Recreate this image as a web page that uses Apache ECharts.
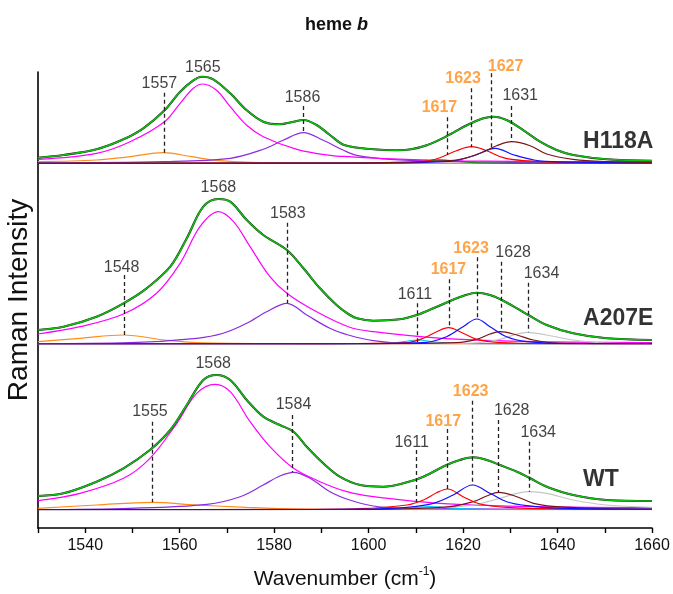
<!DOCTYPE html>
<html><head><meta charset="utf-8">
<script src="https://cdn.jsdelivr.net/npm/echarts@6/dist/echarts.min.js"></script>
<style>html,body{margin:0;padding:0;background:#fff}#c{width:673px;height:594px}</style>
</head><body><div id="c"></div>
<script>
// ---------- axis ----------
const xMin = 1530, xMax = 1660;
const tickLabels = [1540, 1560, 1580, 1600, 1620, 1640, 1660];

// ---------- H118A (intensity in arbitrary units above panel baseline) ----------
const h118a_fit  = [[1530,5.6],[1535.4,8.3],[1542.4,14],[1548.1,24],[1552.3,35],[1556.8,53],[1560.1,71.6],[1562.9,83],[1564.7,86.6],[1567.1,84],[1570.7,70],[1574.2,53],[1577.7,41.6],[1581.2,39],[1584.1,41.6],[1586.2,43.3],[1589,38.3],[1591.8,28.3],[1595,18],[1601,14],[1606,13],[1609,14],[1612.3,18],[1616.5,27],[1620.8,38],[1624.3,45],[1626.4,46.6],[1629.2,43.3],[1632.8,33],[1636.3,21.6],[1639.8,13.3],[1643.3,8.3],[1650.4,4],[1660,2.5]];
const h118a_1565 = [[1530,4],[1542.4,10],[1549.5,21.6],[1556.8,41.6],[1560.1,60],[1562.9,75],[1564.9,79.3],[1567.8,73],[1570.7,56.6],[1574.2,38],[1577.7,26.6],[1584.8,14],[1591.8,8],[1596,6.6],[1605,4.5],[1620,2.5],[1640,1.8],[1660,1.5]];
const h118a_1586 = [[1530,0.5],[1556.8,1.7],[1570.7,5],[1577.7,14],[1581.9,23],[1586.2,30.6],[1590.4,23],[1594.7,13],[1597.5,8],[1604.6,4],[1615,2],[1630,1],[1660,0.5]];
const h118a_1557 = [[1530,1.6],[1542.4,3.3],[1549.5,6.6],[1556.5,10.6],[1562.5,6.6],[1567.8,3],[1575,1],[1590,0.3],[1600,0],[1660,0]];
const h118a_1617 = [[1530,0],[1600,0],[1608,0.6],[1612,2],[1615,3.5],[1619,2],[1624,0.5],[1640,0],[1660,0]];
const h118a_1623 = [[1530,0],[1590,0.2],[1600,0.5],[1611.6,2],[1615.1,5.6],[1618.6,12.6],[1621.8,16.6],[1625,12.6],[1628.5,5.6],[1632.8,2.6],[1640,1],[1660,0.3]];
const h118a_1627 = [[1530,0],[1590,0.1],[1600,0.3],[1617.2,2],[1622.1,7.3],[1626.8,15],[1630.8,8.3],[1635,3.3],[1640,1.5],[1660,0.5]];
const h118a_1631 = [[1530,0],[1590,0.2],[1600,0.5],[1618.6,3.3],[1623.6,10],[1627.1,17.6],[1630.3,21.6],[1634.2,17.6],[1637.7,9.3],[1643.3,4],[1650,1.8],[1660,1]];

// ---------- A207E ----------
const a207e_fit  = [[1530,14],[1535.4,17.3],[1542.4,27.3],[1548.1,40.7],[1553,55.7],[1558,77.3],[1561.5,105.7],[1565,137.3],[1568.2,145],[1570.7,142.3],[1574.2,124],[1577.7,109],[1582.7,94],[1586.2,75.7],[1589.7,55.7],[1593.2,39],[1595.7,30],[1597.5,25.7],[1601,23.3],[1606.6,24.7],[1610.2,29],[1613.7,35.7],[1616.9,42.3],[1620,48],[1622.9,51.3],[1625.7,49],[1628.2,44],[1631.4,35.7],[1633.8,29],[1637.7,19],[1643.3,10.7],[1650.4,5.7],[1660,4]];
const a207e_1568 = [[1530,10],[1538.9,17.3],[1548.1,30],[1555.1,50.7],[1560.1,80.7],[1564.3,117.3],[1568.2,132.3],[1571.4,122.3],[1574.9,97.3],[1579.1,67.3],[1582.7,50.7],[1588.3,34],[1595.7,17.3],[1601,12.3],[1615.5,5.7],[1636,2.3],[1660,1.5]];
const a207e_1583 = [[1530,0.3],[1549.5,1.3],[1563.6,5.7],[1569.2,10.7],[1574.2,20.7],[1578.4,32.3],[1582.7,40.7],[1586.9,29],[1591.8,15.7],[1595.7,9],[1601,3.3],[1608,0.7],[1660,0.3]];
const a207e_1548 = [[1530,2.3],[1538.9,5.7],[1548.1,9],[1556.8,4],[1563.6,1.3],[1580,0.3],[1600,0],[1660,0]];
const a207e_1611 = [[1530,0],[1598,0],[1606,1.5],[1610.5,4],[1614,2],[1620,0.5],[1640,0],[1660,0]];
const a207e_1617 = [[1530,0],[1590,0.2],[1598,0.5],[1608,1.3],[1611.6,5.7],[1614.4,12.3],[1616.9,16.3],[1620,10.7],[1622.9,4.7],[1627.8,1.3],[1640,0.3],[1660,0.1]];
const a207e_1623 = [[1530,0],[1590,0.1],[1598,0.3],[1611.6,1.3],[1616.5,7.3],[1620,17.3],[1622.9,25],[1625.7,17.3],[1629.2,7.3],[1633.5,2.3],[1640,0.7],[1660,0.3]];
const a207e_1628 = [[1530,0],[1595,0.1],[1605,0.3],[1618.6,1.3],[1622.9,4.7],[1625.7,10],[1627.8,12.3],[1631.4,9],[1634.9,4],[1639.8,1],[1660,0.3]];
const a207e_1634 = [[1530,0],[1600,0.1],[1610,0.3],[1622.1,1],[1627.8,4.7],[1631.4,10],[1633.5,11.7],[1637.7,9],[1643.3,4],[1650.4,1],[1660,0.5]];

// ---------- WT ----------
const wt_fit  = [[1530,13.7],[1535.4,16.4],[1542.4,28],[1548.1,41.4],[1553.7,59.7],[1558,79.7],[1561.5,104.7],[1565,129.7],[1567.8,134.7],[1570.7,129.7],[1574.2,109.7],[1577.7,93],[1581.2,84.7],[1584.1,78],[1586.9,63],[1590.4,46.4],[1593.9,33],[1598.2,24.7],[1603.1,23],[1608.1,27.4],[1611.6,33],[1616.5,44.7],[1619.3,49.7],[1622.2,52.4],[1625,49.7],[1627.8,44.7],[1631.4,38],[1634.2,31.4],[1637.7,23],[1643.3,14.7],[1650.4,9.7],[1660,8.7]];
const wt_1568 = [[1530,9],[1538.9,16.4],[1548.1,31.4],[1553.7,51.4],[1559.4,86.4],[1563.6,116.4],[1567.5,125.4],[1570.7,118],[1574.9,88],[1579.1,63],[1584.1,41.4],[1589.7,28],[1595.4,18],[1601,13],[1615,6.4],[1636,3],[1660,2]];
const wt_1584 = [[1530,0],[1549.5,1.4],[1565.8,5.4],[1572.8,13],[1577.7,24.7],[1581.2,33.7],[1584.1,37.4],[1587.6,31.4],[1591.8,18],[1596,9.7],[1601,3.7],[1608,1.4],[1660,0.3]];
const wt_1555 = [[1530,1.4],[1542.4,4.7],[1554.1,7.4],[1563.6,4.7],[1574.2,2.4],[1584.8,0.7],[1600,0],[1660,0]];
const wt_1611 = [[1530,0],[1598,0],[1608,1.5],[1613,3],[1618,1.5],[1625,0.3],[1640,0],[1660,0]];
const wt_1617 = [[1530,0],[1585,0.3],[1598,1],[1608.1,4.7],[1611.6,9.7],[1614.4,17],[1616.7,20.7],[1620,13],[1623.6,5.7],[1629.2,2.4],[1640,0.8],[1660,0.3]];
const wt_1623 = [[1530,0],[1585,0.2],[1598,0.5],[1608.1,2.4],[1613.7,6.4],[1617.9,14.7],[1622,24.7],[1625.7,16.4],[1629.2,8],[1633.5,4],[1640,1.5],[1660,0.5]];
const wt_1628 = [[1530,0],[1595,0.2],[1605,0.5],[1617.2,3],[1622.2,8],[1625,13.7],[1627.5,17.4],[1631.4,13],[1634.9,6.4],[1639.8,3],[1650,1],[1660,0.5]];
const wt_1634 = [[1530,0],[1595,0.2],[1605,0.5],[1615,2],[1622.2,4.7],[1627.8,11.4],[1631.4,16.4],[1633.8,18],[1637.7,16.4],[1643.3,9.7],[1650.4,4.7],[1660,2.4]];

// ---------- band annotations: [text, markerX, markerTop, markerBottom, labelX, labelY, highlighted] ----------
const h118a_notes = [
  ['1557',1556.8,70.6,10.6,1555.7,79.3,0],['1565',null,null,null,1564.9,96,0],['1586',1586.2,57.3,30.6,1586.0,66,0],
  ['1617',1616.6,46,8.3,1615.0,56,1],['1623',1621.7,75,16,1620.0,85,1],['1627',1626.0,90,15,1629.0,96.6,1],['1631',1630.3,57.3,21.6,1632.1,67.3,0]];
const a207e_notes = [
  ['1548',1548.2,69,9,1547.7,76.7,0],['1568',null,null,null,1568.2,156.7,0],['1583',1582.7,121.3,40.7,1582.9,130.7,0],
  ['1611',1610.3,40.7,2,1609.8,49.7,0],['1617',1617.0,64.7,16.3,1616.9,74,1],['1623',1622.9,86.7,25,1621.7,95.7,1],
  ['1628',1628.0,82.3,12.3,1630.6,91.3,0],['1634',1633.7,61.3,11.7,1636.6,70.7,0]];
const wt_notes = [
  ['1555',1554.2,88,7.4,1553.7,98,0],['1568',null,null,null,1567.1,145.7,0],['1584',1583.9,94.7,37.4,1584.1,105.4,0],
  ['1611',1610.1,59.7,8,1609.1,67,0],['1617',1616.7,80.7,20.7,1615.8,88,1],['1623',1622.0,109,24.7,1621.6,118,1],
  ['1628',1627.5,89.7,17.4,1630.3,98.7,0],['1634',1634.0,68,18,1635.9,77,0]];

const panelNames = ['H118A', 'A207E', 'WT'];

// ---------- layout / style ----------
const FONT = 'Liberation Sans, Arial, sans-serif';
const C = {fit:'#12c012', data:'#1a1a1a', magenta:'#ff00ff', purple:'#8a2be2', orange:'#ff8c1a', red:'#ff0000',
  blue:'#1010ff', brown:'#7a1515', gray:'#c6c6c6', cyan:'#00c4ff', dkgreen:'#208a20'};
const LEFT = 38, RIGHT = 21, AX_TOP = 72, AX_BOTTOM = 528;
const panels = [
  {base:163.3, span:100, nameAt:[1645.4,21.6], notes:h118a_notes, fit:h118a_fit,
   comps:[[h118a_1557,C.orange],[h118a_1586,C.purple],[h118a_1565,C.magenta],[h118a_1617,C.dkgreen],[h118a_1623,C.red],[h118a_1627,C.blue],[h118a_1631,C.brown]]},
  {base:344, span:200, nameAt:[1645.4,25], notes:a207e_notes, fit:a207e_fit,
   comps:[[a207e_1548,C.orange],[a207e_1583,C.purple],[a207e_1568,C.magenta],[a207e_1611,C.cyan],[a207e_1634,C.gray],[a207e_1628,C.brown],[a207e_1617,C.red],[a207e_1623,C.blue]]},
  {base:509.7, span:200, nameAt:[1645.4,29.7], notes:wt_notes, fit:wt_fit,
   comps:[[wt_1555,C.orange],[wt_1584,C.purple],[wt_1568,C.magenta],[wt_1611,C.cyan],[wt_1634,C.gray],[wt_1628,C.brown],[wt_1617,C.red],[wt_1623,C.blue]]}
];

const grids = [{left:LEFT, right:RIGHT, top:AX_TOP, height:AX_BOTTOM-AX_TOP, outerBoundsMode:'none', containLabel:false}];
const xAxes = [{
  gridIndex:0, type:'value', min:xMin, max:xMax, interval:10,
  axisLine:{show:true, lineStyle:{color:'#000', width:1.6}},
  axisTick:{show:true, inside:false, length:5, lineStyle:{color:'#000', width:1.4}},
  axisLabel:{color:'#111', fontFamily:FONT, fontSize:16, margin:10,
    formatter:v => tickLabels.indexOf(v) >= 0 ? String(v) : ''},
  splitLine:{show:false},
  name:'{a|Wavenumber (cm}{s|-1}{a|)}', nameLocation:'middle', nameGap:38,
  nameTextStyle:{rich:{a:{fontFamily:FONT, fontSize:21, color:'#111', lineHeight:26},
                       s:{fontFamily:FONT, fontSize:12, color:'#111', verticalAlign:'top', lineHeight:12}}}
}];
const yAxes = [{
  gridIndex:0, type:'value', min:0, max:1,
  axisLine:{show:true, lineStyle:{color:'#000', width:1.6}}, axisTick:{show:false}, axisLabel:{show:false},
  splitLine:{show:false},
  name:'Raman Intensity', nameLocation:'middle', nameGap:5, nameRotate:90,
  nameTextStyle:{fontFamily:FONT, fontSize:28, color:'#111'}
}];
const series = [];
panels.forEach((p, i) => {
  const gi = i + 1;
  grids.push({left:LEFT, right:RIGHT, top:p.base - p.span, height:p.span, outerBoundsMode:'none', containLabel:false});
  xAxes.push({gridIndex:gi, type:'value', min:xMin, max:xMax, show:false});
  yAxes.push({gridIndex:gi, type:'value', min:0, max:p.span, show:false});
  p.comps.forEach(([d, col]) => series.push({
    type:'line', xAxisIndex:gi, yAxisIndex:gi, data:d, smooth:0.35, symbol:'none', silent:true,
    lineStyle:{color:col, width:1.2}, z:2
  }));
  series.push({type:'line', xAxisIndex:gi, yAxisIndex:gi, data:p.fit, smooth:0.35, symbol:'none', silent:true,
    lineStyle:{color:C.data, width:2.1}, z:3});
  series.push({type:'line', xAxisIndex:gi, yAxisIndex:gi, data:p.fit, smooth:0.35, symbol:'none', silent:true,
    lineStyle:{color:C.fit, width:1.5}, z:4});
  series.push({
    type:'scatter', xAxisIndex:gi, yAxisIndex:gi, symbolSize:1, itemStyle:{color:'rgba(0,0,0,0)'}, silent:true, z:6,
    data:p.notes.map(n => ({value:[n[4], n[5]], label:{show:true, position:'inside', formatter:n[0],
      fontFamily:FONT, fontSize:16, fontWeight:n[6] ? 'bold' : 'normal', color:n[6] ? C.orange : '#111'}}))
      .concat([{value:p.nameAt, label:{show:true, position:'inside', align:'left', formatter:panelNames[i],
        fontFamily:FONT, fontSize:23, fontWeight:'bold', color:'#000'}}]),
    markLine:{silent:true, symbol:['none','none'], animation:false, label:{show:false},
      lineStyle:{type:[4,3], color:'#222', width:1.3},
      data:p.notes.filter(n => n[1] !== null).map(n => [{coord:[n[1], n[2]]}, {coord:[n[1], n[3]]}])}
  });
});

const chart = echarts.init(document.getElementById('c'));
chart.setOption({
  animation:false, backgroundColor:'#fff',
  title:{text:'{a|heme }{b|b}', left:'center', top:11,
    textStyle:{rich:{a:{fontFamily:FONT, fontSize:18, fontWeight:'bold', color:'#111'},
                     b:{fontFamily:FONT, fontSize:18, fontWeight:'bold', fontStyle:'italic', color:'#111'}}}},
  grid:grids, xAxis:xAxes, yAxis:yAxes, series:series
});
</script></body></html>
